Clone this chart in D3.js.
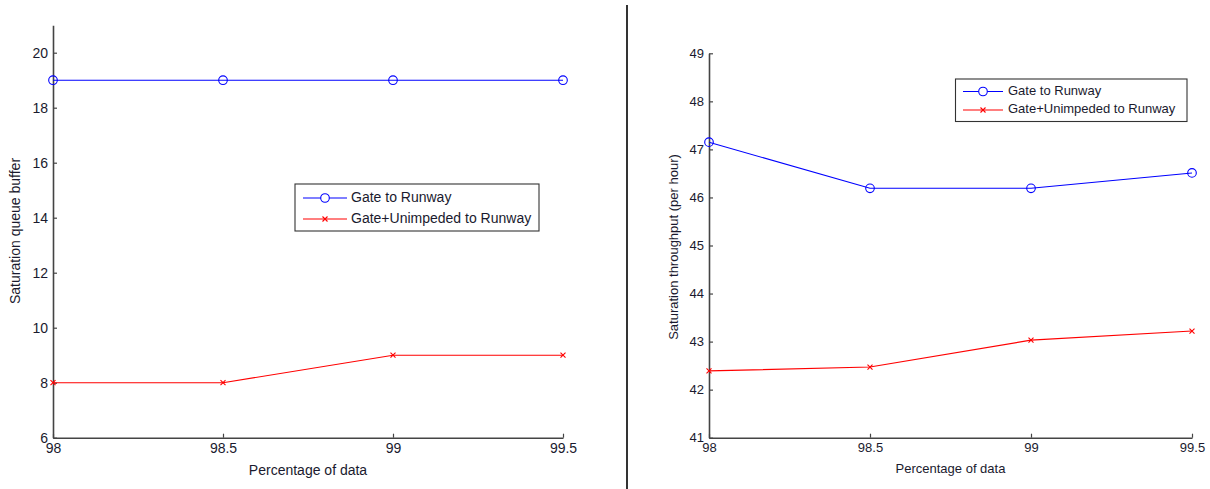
<!DOCTYPE html>
<html>
<head>
<meta charset="utf-8">
<script src="https://cdn.jsdelivr.net/npm/d3@7"></script>
<style>
  html, body { margin: 0; padding: 0; background: #fff; }
  svg { display: block; }
  text { font-family: "Liberation Sans", Arial, sans-serif; fill: #1a1a2e; }
</style>
</head>
<body>
<svg id="chart" width="1210" height="489"></svg>
<script>
// ---------- data ----------
const xValues = [98, 98.5, 99, 99.5];
const xTickLabels = ["98", "98.5", "99", "99.5"];
const seriesNames = ["Gate to Runway", "Gate+Unimpeded to Runway"];

const queueGate = [19, 19, 19, 19];
const queueUnimpeded = [8, 8, 9, 9];
const queueTicks = [6, 8, 10, 12, 14, 16, 18, 20];

const throughputGate = [47.15, 46.19, 46.19, 46.51];
const throughputUnimpeded = [42.39, 42.47, 43.03, 43.22];
const throughputTicks = [41, 42, 43, 44, 45, 46, 47, 48, 49];

// ---------- drawing ----------
const svg = d3.select("#chart");
const colors = ["#0000ff", "#ff0000"];

// separator line between the two figures
svg.append("line")
  .attr("x1", 627).attr("x2", 627).attr("y1", 5).attr("y2", 489)
  .attr("stroke", "#000").attr("stroke-width", 1.6);

function panel(cfg) {
  const g = svg.append("g");
  const x = d3.scaleLinear().domain([98, 99.5]).range([cfg.x0, cfg.x1]);
  const y = d3.scaleLinear().domain(cfg.yDomain).range([cfg.y0, cfg.y1]);

  // axes
  const xAxis = d3.axisBottom(x).tickValues(xValues)
    .tickFormat((d, i) => xTickLabels[i]).tickSizeInner(-4).tickSizeOuter(0).tickPadding(5);
  const yAxis = d3.axisLeft(y).tickValues(cfg.yTicks)
    .tickFormat(d3.format("d")).tickSizeInner(-4).tickSizeOuter(0).tickPadding(5);

  const gx = g.append("g").attr("transform", `translate(0,${cfg.y0})`).call(xAxis);
  const gy = g.append("g").attr("transform", `translate(${cfg.x0},0)`).call(yAxis);
  [gx, gy].forEach(a => {
    a.select(".domain").attr("stroke", "#444").attr("stroke-width", 1.6);
    a.selectAll(".tick line").attr("stroke", "#444").attr("stroke-width", 1.2);
    a.selectAll(".tick text").attr("font-size", cfg.fs).attr("fill", "#1a1a2e")
      .attr("font-family", "Liberation Sans, Arial, sans-serif");
  });

  // axis titles
  g.append("text").attr("x", (cfg.x0 + cfg.x1) / 2).attr("y", cfg.xLabelY)
    .attr("text-anchor", "middle").attr("dominant-baseline", "middle")
    .attr("font-size", cfg.fs).text("Percentage of data");
  g.append("text")
    .attr("transform", `translate(${cfg.yLabelX},${cfg.yLabelY}) rotate(-90)`)
    .attr("text-anchor", "middle").attr("dominant-baseline", "middle")
    .attr("font-size", cfg.fs).text(cfg.yTitle);

  const line = d3.line().x((d, i) => x(xValues[i])).y(d => y(d));
  cfg.series.forEach((s, k) => {
    g.append("path").datum(s).attr("d", line)
      .attr("fill", "none").attr("stroke", colors[k]).attr("stroke-width", 1.1);
  });
  // markers
  g.selectAll(".circ").data(cfg.series[0]).enter().append("circle")
    .attr("cx", (d, i) => x(xValues[i])).attr("cy", d => y(d)).attr("r", 4.3)
    .attr("fill", "none").attr("stroke", colors[0]).attr("stroke-width", 1.1);
  g.selectAll(".xm").data(cfg.series[1]).enter().append("path")
    .attr("d", (d, i) => {
      const cx = x(xValues[i]), cy = y(d), h = 2.5;
      return `M${cx - h},${cy - h}L${cx + h},${cy + h}M${cx - h},${cy + h}L${cx + h},${cy - h}`;
    })
    .attr("fill", "none").attr("stroke", colors[1]).attr("stroke-width", 1.1);

  // legend
  const L = cfg.legend;
  g.append("rect").attr("x", L.x).attr("y", L.y).attr("width", L.w).attr("height", L.h)
    .attr("fill", "#fff").attr("stroke", "#333").attr("stroke-width", 1.1);
  seriesNames.forEach((name, k) => {
    const ry = L.rowY[k];
    g.append("line").attr("x1", L.lx0).attr("x2", L.lx1).attr("y1", ry).attr("y2", ry)
      .attr("stroke", colors[k]).attr("stroke-width", 1.1);
    const mx = (L.lx0 + L.lx1) / 2;
    if (k === 0) {
      g.append("circle").attr("cx", mx).attr("cy", ry).attr("r", 4.3)
        .attr("fill", "#fff").attr("stroke", colors[0]).attr("stroke-width", 1.1);
    } else {
      const h = 2.5;
      g.append("path").attr("d", `M${mx - h},${ry - h}L${mx + h},${ry + h}M${mx - h},${ry + h}L${mx + h},${ry - h}`)
        .attr("fill", "none").attr("stroke", colors[1]).attr("stroke-width", 1.1);
    }
    g.append("text").attr("x", L.tx).attr("y", ry).attr("dominant-baseline", "middle")
      .attr("font-size", L.fs).text(name);
  });
}

panel({
  x0: 53, x1: 563, y0: 437.7, y1: 25.2, yDomain: [6, 21], yTicks: queueTicks,
  fs: 14, xLabelY: 471, yLabelX: 16, yLabelY: 231,
  yTitle: "Saturation queue buffer",
  series: [queueGate, queueUnimpeded],
  legend: { x: 295, y: 184, w: 244, h: 47, rowY: [198, 219], lx0: 303, lx1: 347, tx: 351, fs: 14 }
});

panel({
  x0: 709, x1: 1192, y0: 437.7, y1: 53.3, yDomain: [41, 49], yTicks: throughputTicks,
  fs: 13, xLabelY: 470, yLabelX: 675, yLabelY: 247,
  yTitle: "Saturation throughput (per hour)",
  series: [throughputGate, throughputUnimpeded],
  legend: { x: 955.5, y: 79, w: 231.5, h: 42.5, rowY: [91.5, 110], lx0: 963, lx1: 1003, tx: 1008, fs: 13 }
});
</script>
</body>
</html>
